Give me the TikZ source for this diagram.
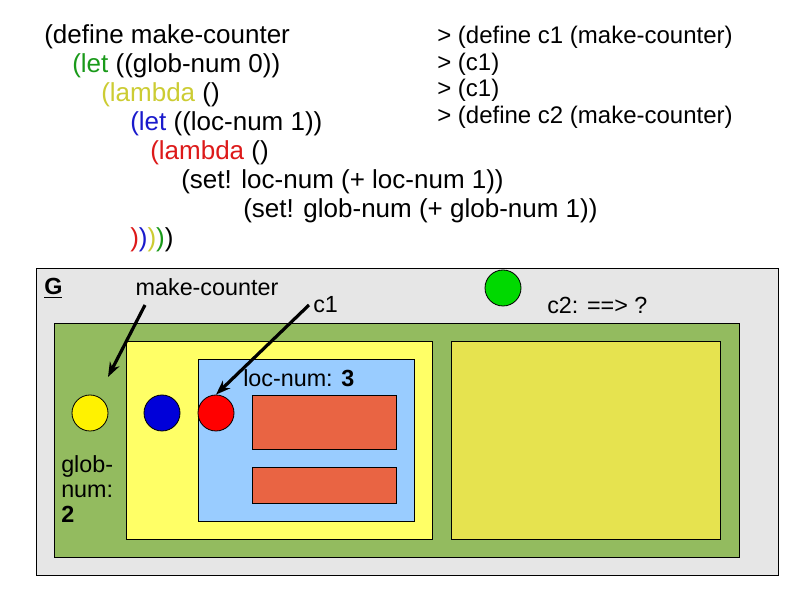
\documentclass[tikz,border=0pt]{standalone}
\usepackage{fontspec}
\setmainfont{Liberation Sans}
\usetikzlibrary{arrows.meta}
\definecolor{cgray}{HTML}{E6E6E6}
\definecolor{cgreen}{HTML}{93BB5F}
\definecolor{cyel}{HTML}{FFFF66}
\definecolor{cblue}{HTML}{99CCFF}
\definecolor{cred}{HTML}{E96443}
\definecolor{cyel2}{HTML}{E6E34F}
\definecolor{kgreen}{HTML}{1A9A1A}
\definecolor{kyel}{HTML}{CCCC33}
\definecolor{kblue}{HTML}{1A1ACC}
\definecolor{kred}{HTML}{DD1A1A}
\begin{document}
\begin{tikzpicture}[x=0.75pt,y=-0.75pt,
  box/.style={draw=black,line width=0.6pt},
  dot/.style={circle,draw=black,line width=0.6pt,minimum size=27pt,inner sep=0pt},
  code/.style={anchor=west,inner sep=0pt,font=\fontsize{19.5}{21}\selectfont},
  rcode/.style={anchor=west,inner sep=0pt,font=\fontsize{18}{20}\selectfont},
  lab/.style={inner sep=0pt,font=\fontsize{17.5}{19}\selectfont},
  arr/.style={-{Stealth[length=11pt,width=8pt]},line width=2.4pt}]
\useasboundingbox (0,0) rectangle (794,595);
\fill[white] (0,0) rectangle (794,595);
\draw[box,fill=cgray] (36,268) rectangle (778,575);
\draw[box,fill=cgreen] (54,323) rectangle (739,557);
\draw[box,fill=cyel] (126,341) rectangle (432,539);
\draw[box,fill=cblue] (198,359) rectangle (414,521);
\draw[box,fill=cred] (252,395) rectangle (396,449);
\draw[box,fill=cred] (252,467) rectangle (396,503);
\draw[box,fill=cyel2] (451,341) rectangle (720,539);
\node[dot,fill=yellow] (y) at (90,413) {};
\node[dot,fill=blue!85!black] (b) at (162,413) {};
\node[dot,fill=red] (r) at (216,413) {};
\node[dot,fill=green!85!black] (g) at (503,288) {};
\node[lab,anchor=west,font=\fontsize{17.5}{19}\selectfont\bfseries] (G) at (44,288) {\underline{G}};
\node[lab] (mc) at (207,287) {make-counter};
\node[lab,anchor=west] (c1) at (313,305) {c1};
\node[lab,anchor=west] (c2) at (547,305) {c2: ==> ?};
\node[lab,anchor=west] (ln) at (243,378) {loc-num: \textbf{3}};
\node[lab,anchor=north west,align=left] (gn) at (61,455) {glob-\\num:\\\textbf{2}};
\coordinate (a1) at (145,305);
\coordinate (a1e) at (108,377);
\draw[arr] (a1) -- (a1e);
\coordinate (a2) at (309,305);
\draw[arr] (a2) -- (r.north);
\node[code] (l1) at (44,37) {(define make-counter};
\node[code] (l2) at (72,66) {\textcolor{kgreen}{(let} ((glob-num 0))};
\node[code] (l3) at (101,95) {\textcolor{kyel}{(lambda} ()};
\node[code] (l4) at (130,124) {\textcolor{kblue}{(let} ((loc-num 1))};
\node[code] (l5) at (150,153) {\textcolor{kred}{(lambda} ()};
\node[code] (l6) at (181,182) {(set! loc-num (+ loc-num 1))};
\node[code] (l7) at (243,211) {(set! glob-num (+ glob-num 1))};
\node[code] (l8) at (130,240) {\textcolor{kred}{)}\textcolor{kblue}{)}\textcolor{kyel}{)}\textcolor{kgreen}{)})};
\node[rcode] (r1) at (437,37) {> (define c1 (make-counter)};
\node[rcode] (r2) at (437,64) {> (c1)};
\node[rcode] (r3) at (437,90) {> (c1)};
\node[rcode] (r4) at (437,117) {> (define c2 (make-counter)};
\end{tikzpicture}
\end{document}
